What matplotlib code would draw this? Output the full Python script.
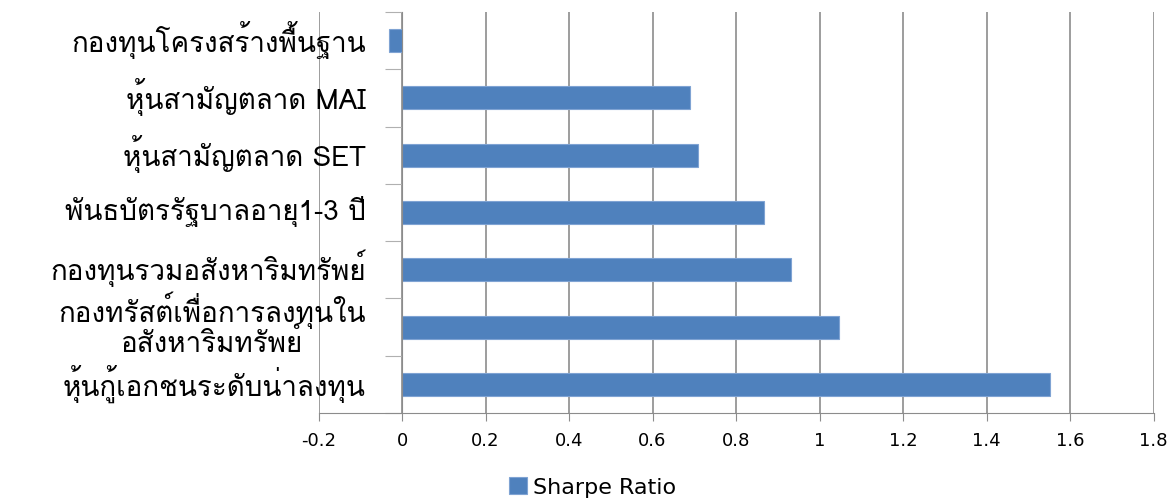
import numpy as np
import matplotlib
matplotlib.use("Agg")
import matplotlib.pyplot as plt
from matplotlib.ticker import FixedLocator, NullFormatter
from matplotlib.transforms import ScaledTranslation

# categories bottom -> top, as in the chart
categories = [
    "หุ้นกู้เอกชนระดับน่าลงทุน",
    "กองทรัสต์เพื่อการลงทุนใน\nอสังหาริมทรัพย์",
    "กองทุนรวมอสังหาริมทรัพย์",
    "พันธบัตรรัฐบาลอายุ1-3 ปี",
    "หุ้นสามัญตลาด SET",
    "หุ้นสามัญตลาด MAI",
    "กองทุนโครงสร้างพื้นฐาน",
]
sharpe = [1.552, 1.047, 0.932, 0.866, 0.709, 0.690, -0.031]
x_ticks = [-0.2, 0, 0.2, 0.4, 0.6, 0.8, 1, 1.2, 1.4, 1.6, 1.8]
x_labels = ["-0.2", "0", "0.2", "0.4", "0.6", "0.8", "1", "1.2", "1.4", "1.6", "1.8"]

grid_col = "#8c8c8c"

fig = plt.figure(figsize=(11.76, 5.02), dpi=100)
ax = fig.add_axes([318.5 / 1176, 1 - 414 / 502, 835 / 1176, 401 / 502])

y = np.arange(len(categories))
ax.barh(y, sharpe, height=0.4, color="#4F81BD", edgecolor="#7FA3D3",
        linewidth=0.8, label="Sharpe Ratio", zorder=3)

ax.set_xlim(-0.2, 1.8)
ax.set_ylim(-0.5, len(categories) - 0.5)

# vertical gridlines
ax.set_xticks(x_ticks)
ax.set_xticklabels(x_labels, fontsize=13, family="DejaVu Sans")
ax.grid(axis="x", color=grid_col, linewidth=1.2, zorder=0)
ax.tick_params(axis="x", length=6, color=grid_col, pad=7)

# category axis sits at x = 0
ax.spines["left"].set_position(("data", 0))
ax.spines["left"].set_color(grid_col)
ax.spines["left"].set_zorder(4)
ax.spines["bottom"].set_color(grid_col)
ax.spines["top"].set_visible(False)
ax.spines["right"].set_visible(False)

ax.yaxis.set_major_locator(FixedLocator(np.arange(len(categories) + 1) - 0.5))
ax.yaxis.set_major_formatter(NullFormatter())
ax.yaxis.set_minor_locator(FixedLocator(y))
ax.set_yticklabels(categories, minor=True, fontsize=20, family=["Loma", "DejaVu Sans"],
                   multialignment="center", linespacing=0.95)
ax.tick_params(axis="y", which="major", length=12, color="#b0b0b0")
ax.tick_params(axis="y", which="minor", length=0, pad=26)

# lift the Thai labels a little (tall marks push them down)
shift = ScaledTranslation(0, 4 / 72, fig.dpi_scale_trans)
for lbl in ax.get_yticklabels(minor=True):
    lbl.set_transform(lbl.get_transform() + shift)

fig.legend(loc="center", bbox_to_anchor=(0.504, 0.028), frameon=False,
           prop={"family": "DejaVu Sans", "size": 16}, handlelength=0.8,
           handleheight=0.8, handletextpad=0.3)

fig.savefig("out.png")
